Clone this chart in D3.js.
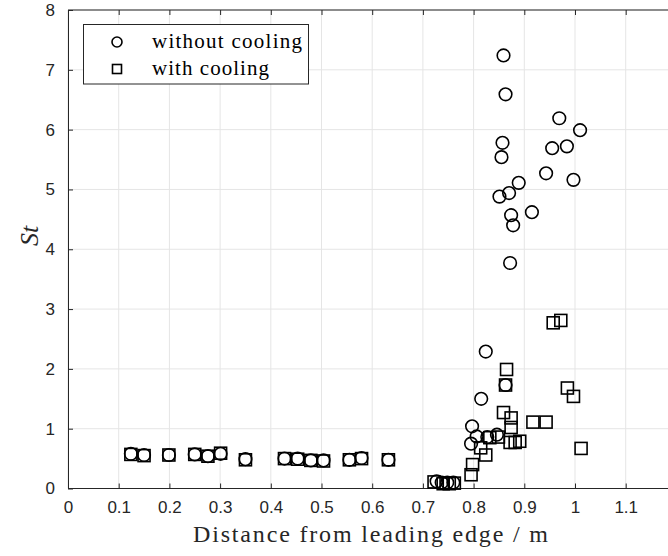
<!DOCTYPE html>
<html>
<head>
<meta charset="utf-8">
<script src="https://cdn.jsdelivr.net/npm/d3@7"></script>
<style>
  html, body { margin: 0; padding: 0; background: #fff; overflow: hidden; }
  svg { display: block; }
</style>
</head>
<body>
<svg id="chart" width="668" height="556"></svg>
<script>
// Stanton number along the plate, with and without film cooling
const withoutX = [0.124, 0.150, 0.199, 0.250, 0.276, 0.301, 0.350, 0.427, 0.453, 0.479, 0.504, 0.555, 0.579, 0.632,
  0.727, 0.737, 0.748, 0.760,
  0.795, 0.797, 0.806, 0.815, 0.824, 0.827, 0.846, 0.863,
  0.851, 0.855, 0.857, 0.859, 0.863, 0.870, 0.872, 0.874, 0.878, 0.889, 0.915, 0.943, 0.955, 0.969, 0.984, 0.997, 1.010];
const withoutY = [0.58, 0.56, 0.56, 0.57, 0.54, 0.58, 0.49, 0.50, 0.50, 0.47, 0.47, 0.48, 0.51, 0.48,
  0.12, 0.10, 0.10, 0.10,
  0.75, 1.04, 0.87, 1.50, 2.29, 0.86, 0.90, 1.73,
  4.88, 5.54, 5.78, 7.24, 6.59, 4.94, 3.77, 4.57, 4.40, 5.11, 4.62, 5.27, 5.69, 6.19, 5.72, 5.16, 5.99];

const withX = [0.124, 0.150, 0.199, 0.250, 0.276, 0.301, 0.350, 0.427, 0.453, 0.479, 0.504, 0.555, 0.579, 0.632,
  0.722, 0.740, 0.752, 0.762,
  0.795, 0.798, 0.814, 0.824, 0.832, 0.849, 0.859, 0.863, 0.865, 0.874, 0.874, 0.872, 0.882, 0.891,
  0.917, 0.943, 0.957, 0.972, 0.985, 0.997, 1.012];
const withY = [0.57, 0.55, 0.56, 0.57, 0.54, 0.59, 0.48, 0.50, 0.49, 0.47, 0.46, 0.48, 0.50, 0.48,
  0.11, 0.08, 0.08, 0.09,
  0.23, 0.40, 0.68, 0.56, 0.85, 0.86, 1.27, 1.73, 1.99, 1.18, 1.02, 0.77, 0.77, 0.79,
  1.11, 1.11, 2.77, 2.81, 1.68, 1.54, 0.67];

const xTicks = [0, 0.1, 0.2, 0.3, 0.4, 0.5, 0.6, 0.7, 0.8, 0.9, 1, 1.1];
const yTicks = [0, 1, 2, 3, 4, 5, 6, 7, 8];
const legendLabels = ["without cooling", "with cooling"];

const svg = d3.select("#chart");
const plotLeft = 68, plotTop = 10, plotBottom = 488.5;
const x = d3.scaleLinear().domain([0, 1.2]).range([plotLeft, plotLeft + 1.2 * 507]);
const y = d3.scaleLinear().domain([0, 8]).range([plotBottom, plotTop]);

const axisColor = "#262626";
const gridColor = "#e5e5e5";

// grid
const grid = svg.append("g");
grid.selectAll("line.gx").data(xTicks).join("line")
  .attr("x1", d => x(d)).attr("x2", d => x(d))
  .attr("y1", plotTop).attr("y2", plotBottom)
  .attr("stroke", gridColor).attr("stroke-width", 1);
grid.selectAll("line.gy").data(yTicks).join("line")
  .attr("x1", plotLeft).attr("x2", 700)
  .attr("y1", d => y(d)).attr("y2", d => y(d))
  .attr("stroke", gridColor).attr("stroke-width", 1);

// axes
const tickFont = "Liberation Sans, Arial, sans-serif";
const xAxis = svg.append("g").attr("transform", `translate(0,${plotBottom})`)
  .call(d3.axisBottom(x).tickValues(xTicks).tickSizeInner(-5).tickSizeOuter(0).tickPadding(12)
    .tickFormat(d => d3.format("")(+d.toFixed(1))));
const xTop = svg.append("g").attr("transform", `translate(0,${plotTop})`)
  .call(d3.axisTop(x).tickValues(xTicks).tickSizeInner(-5).tickSizeOuter(0).tickFormat(""));
const yAxis = svg.append("g").attr("transform", `translate(${plotLeft},0)`)
  .call(d3.axisLeft(y).tickValues(yTicks).tickSizeInner(-5).tickSizeOuter(0).tickPadding(13));

[xAxis, xTop, yAxis].forEach(g => {
  g.select(".domain").attr("stroke", axisColor).attr("stroke-width", 1);
  g.selectAll(".tick line").attr("stroke", axisColor).attr("stroke-width", 1);
  g.selectAll(".tick text").attr("fill", "#262626")
    .style("font-family", tickFont).style("font-size", "17px");
});
xAxis.select(".domain").attr("d", `M${plotLeft},0H700`);
xTop.select(".domain").attr("d", `M${plotLeft},0H700`);

// axis titles
const serif = "'Liberation Serif', 'Times New Roman', serif";
svg.append("text")
  .attr("x", 193).attr("y", 542)
  .attr("textLength", 355).attr("lengthAdjust", "spacing")
  .attr("fill", "#262626")
  .style("font-family", serif).style("font-size", "24px")
  .text("Distance from leading edge / m");
svg.append("text")
  .attr("transform", `translate(38,236) rotate(-90)`)
  .attr("text-anchor", "middle")
  .attr("fill", "#262626")
  .style("font-family", serif).style("font-size", "26px").style("font-style", "italic")
  .text("St");

// markers
const marks = svg.append("g").attr("fill", "none").attr("stroke", "#000").attr("stroke-width", 1.6);
const sq = 12;
marks.selectAll("rect").data(d3.range(withX.length)).join("rect")
  .attr("x", i => x(withX[i]) - sq / 2).attr("y", i => y(withY[i]) - sq / 2)
  .attr("width", sq).attr("height", sq);
marks.selectAll("circle").data(d3.range(withoutX.length)).join("circle")
  .attr("cx", i => x(withoutX[i])).attr("cy", i => y(withoutY[i]))
  .attr("r", 6.3);

// legend
const lg = svg.append("g");
lg.append("rect").attr("x", 83.5).attr("y", 24.5).attr("width", 225).attr("height", 59.5)
  .attr("fill", "#fff").attr("stroke", axisColor).attr("stroke-width", 1);
const lgY = [42, 69];
const lgWidths = [150, 117];
lg.append("circle").attr("cx", 117).attr("cy", lgY[0]).attr("r", 5)
  .attr("fill", "none").attr("stroke", "#000").attr("stroke-width", 1.6);
lg.append("rect").attr("x", 117 - 4.5).attr("y", lgY[1] - 4.5).attr("width", 9).attr("height", 9)
  .attr("fill", "none").attr("stroke", "#000").attr("stroke-width", 1.6);
lg.selectAll("text").data(legendLabels).join("text")
  .attr("x", 152).attr("y", (d, i) => lgY[i] + 6)
  .attr("textLength", (d, i) => lgWidths[i]).attr("lengthAdjust", "spacing")
  .attr("fill", "#000")
  .style("font-family", serif).style("font-size", "21px")
  .text(d => d);
</script>
</body>
</html>
